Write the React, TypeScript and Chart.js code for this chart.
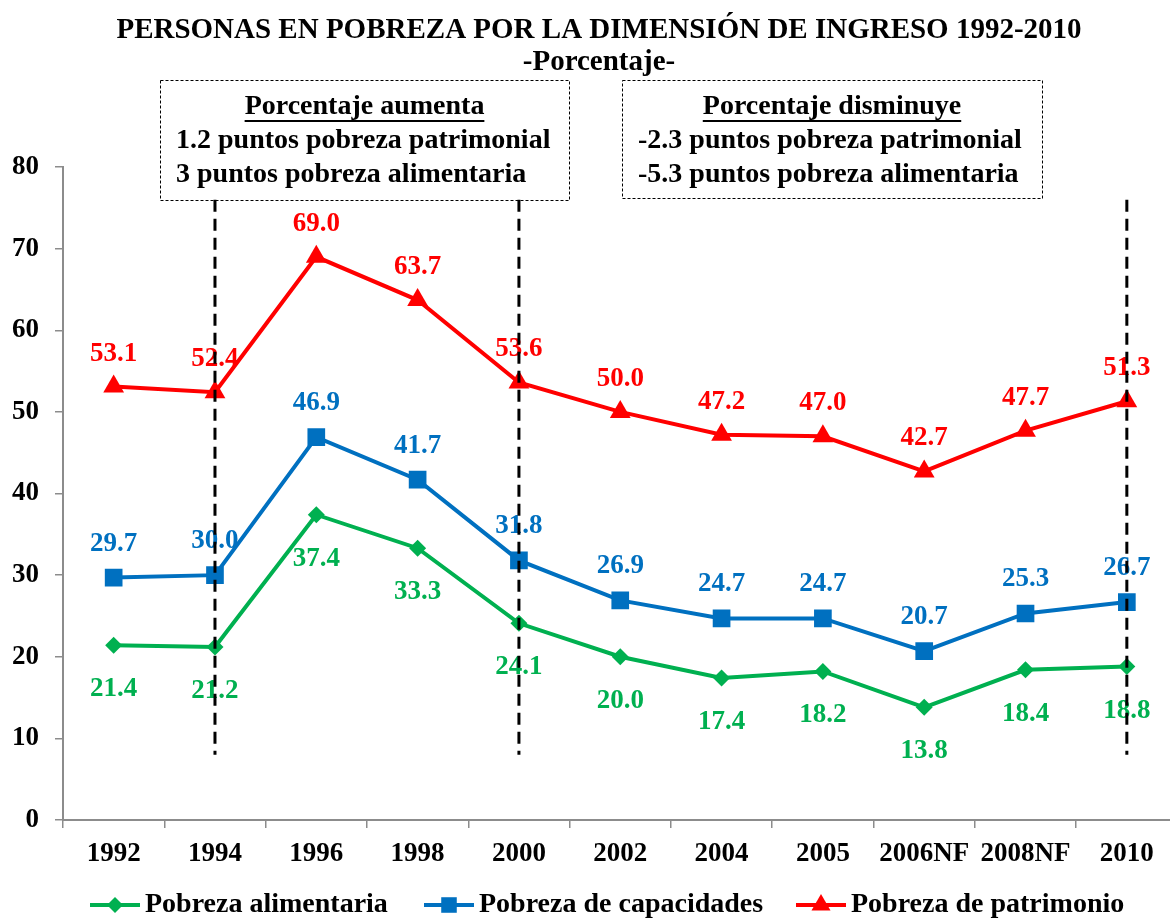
import React, { useEffect, useRef } from 'react';
import { Chart, registerables } from 'chart.js';
Chart.register(...registerables);

const categories = ['1992', '1994', '1996', '1998', '2000', '2002', '2004', '2005', '2006NF', '2008NF', '2010'];
const alimentaria = [21.4, 21.2, 37.4, 33.3, 24.1, 20.0, 17.4, 18.2, 13.8, 18.4, 18.8];
const capacidades = [29.7, 30.0, 46.9, 41.7, 31.8, 26.9, 24.7, 24.7, 20.7, 25.3, 26.7];
const patrimonio = [53.1, 52.4, 69.0, 63.7, 53.6, 50.0, 47.2, 47.0, 42.7, 47.7, 51.3];
const seriesNames = ['Pobreza alimentaria', 'Pobreza de capacidades', 'Pobreza de patrimonio'];
const seriesColors = ['#00B050', '#0070C0', '#FF0000'];
const titleLines = ['PERSONAS EN POBREZA POR LA DIMENSIÓN DE INGRESO 1992-2010', '-Porcentaje-'];
const boxAumentaHeading = 'Porcentaje aumenta';
const boxAumentaLines = ['1.2 puntos pobreza patrimonial', '3 puntos pobreza alimentaria'];
const boxDisminuyeHeading = 'Porcentaje disminuye';
const boxDisminuyeLines = ['-2.3 puntos pobreza patrimonial', '-5.3 puntos pobreza alimentaria'];
const dashedCategories = ['1994', '2000', '2010'];
const dashedRange = [76, 8];

const FONT = "'Liberation Serif', 'Times New Roman', serif";

function drawMarker(ctx: CanvasRenderingContext2D, style: string, x: number, y: number, r: number, color: string) {
  ctx.save();
  ctx.fillStyle = color;
  ctx.beginPath();
  if (style === 'rectRot') {
    ctx.moveTo(x - r, y); ctx.lineTo(x, y - r); ctx.lineTo(x + r, y); ctx.lineTo(x, y + r);
  } else if (style === 'rect') {
    const s = r * Math.SQRT1_2;
    ctx.rect(x - s, y - s, 2 * s, 2 * s);
  } else {
    const xo = Math.cos(Math.PI / 6) * r;
    ctx.moveTo(x - xo, y + r / 2); ctx.lineTo(x, y - r); ctx.lineTo(x + xo, y + r / 2);
  }
  ctx.closePath();
  ctx.fill();
  ctx.restore();
}

const decorPlugin = {
  id: 'decor',
  afterDatasetsDraw(chart: any) {
    const ctx: CanvasRenderingContext2D = chart.ctx;
    const xs = chart.scales.x;
    const ys = chart.scales.y;
    ctx.save();
    // Title
    ctx.fillStyle = '#000';
    ctx.textAlign = 'center';
    ctx.textBaseline = 'middle';
    ctx.font = `bold 29px ${FONT}`;
    ctx.fillText(titleLines[0], 599, 31);
    ctx.fillText(titleLines[1], 599, 63);

    // Boxes
    const drawBox = (x0: number, y0: number, x1: number, y1: number, heading: string, lines: string[], textX: number) => {
      ctx.save();
      ctx.strokeStyle = '#000';
      ctx.lineWidth = 1;
      ctx.setLineDash([3, 2]);
      ctx.strokeRect(x0 + 0.5, y0 + 0.5, x1 - x0, y1 - y0);
      ctx.restore();
      ctx.font = `bold 28px ${FONT}`;
      ctx.textAlign = 'center';
      ctx.textBaseline = 'middle';
      const cx = (x0 + x1) / 2;
      ctx.fillText(heading, cx, 107);
      const w = ctx.measureText(heading).width;
      ctx.fillRect(cx - w / 2, 120, w, 2);
      ctx.textAlign = 'left';
      lines.forEach((l, i) => ctx.fillText(l, textX, 141 + i * 34));
    };
    drawBox(160, 80, 569, 200, boxAumentaHeading, boxAumentaLines, 176);
    drawBox(622, 80, 1042, 198, boxDisminuyeHeading, boxDisminuyeLines, 638);

    // Data labels
    ctx.font = `bold 27px ${FONT}`;
    ctx.textAlign = 'center';
    ctx.textBaseline = 'middle';
    const offsets = [44, -34, -33];
    chart.data.datasets.forEach((ds: any, di: number) => {
      ctx.fillStyle = seriesColors[di];
      ds.data.forEach((v: number, i: number) => {
        const x = xs.getPixelForValue(i);
        const y = ys.getPixelForValue(v);
        ctx.fillText(v.toFixed(1), x, y + offsets[di]);
      });
    });

    // Dashed vertical lines
    ctx.strokeStyle = '#000';
    ctx.lineWidth = 3;
    ctx.setLineDash([12, 7]);
    dashedCategories.forEach((c) => {
      const x = xs.getPixelForValue(categories.indexOf(c));
      ctx.beginPath();
      ctx.moveTo(x, ys.getPixelForValue(dashedRange[0]));
      ctx.lineTo(x, ys.getPixelForValue(dashedRange[1]));
      ctx.stroke();
    });
    ctx.setLineDash([]);

    // Legend
    const legendX = [90, 424, 796];
    const ly = 905;
    const styles = ['rectRot', 'rect', 'triangle'];
    const radii = [8, 11, 11];
    ctx.font = `bold 28px ${FONT}`;
    ctx.textAlign = 'left';
    seriesNames.forEach((n, i) => {
      const x0 = legendX[i];
      ctx.strokeStyle = seriesColors[i];
      ctx.lineWidth = 4;
      ctx.beginPath();
      ctx.moveTo(x0, ly);
      ctx.lineTo(x0 + 50, ly);
      ctx.stroke();
      drawMarker(ctx, styles[i], x0 + 25, ly, radii[i], seriesColors[i]);
      ctx.fillStyle = '#000';
      ctx.fillText(n, x0 + 55, ly);
    });
    ctx.restore();
  },
};

export default function App() {
  const ref = useRef<HTMLCanvasElement>(null);
  useEffect(() => {
    if (!ref.current) return;
    const chart = new Chart(ref.current, {
      type: 'line',
      data: {
        labels: categories,
        datasets: [
          { label: seriesNames[0], data: alimentaria, borderColor: seriesColors[0], backgroundColor: seriesColors[0], borderWidth: 4, pointStyle: 'rectRot', pointRadius: 8.5, pointBorderWidth: 0, tension: 0 },
          { label: seriesNames[1], data: capacidades, borderColor: seriesColors[1], backgroundColor: seriesColors[1], borderWidth: 4, pointStyle: 'rect', pointRadius: 12.5, pointBorderWidth: 0, tension: 0 },
          { label: seriesNames[2], data: patrimonio, borderColor: seriesColors[2], backgroundColor: seriesColors[2], borderWidth: 4, pointStyle: 'triangle', pointRadius: 12, pointBorderWidth: 0, tension: 0 },
        ],
      },
      options: {
        responsive: false,
        animation: false,
        layout: { padding: { top: 167, right: 3, left: 0, bottom: 0 } },
        plugins: { legend: { display: false }, tooltip: { enabled: false }, title: { display: false } },
        scales: {
          x: {
            type: 'category',
            offset: true,
            grid: { drawOnChartArea: false, drawTicks: true, tickLength: 8, color: '#8c8c8c', offset: true, lineWidth: 1.5 },
            border: { color: '#8c8c8c', width: 2 },
            ticks: { color: '#000', font: { family: FONT, size: 27, weight: 'bold' }, padding: 10, maxRotation: 0, autoSkip: false },
            afterFit: (s: any) => { s.height = 99; },
          },
          y: {
            min: 0,
            max: 80,
            ticks: { stepSize: 10, color: '#000', font: { family: FONT, size: 27, weight: 'bold' }, padding: 16 },
            grid: { drawOnChartArea: false, drawTicks: true, tickLength: 8, color: '#8c8c8c', lineWidth: 1.5 },
            border: { color: '#8c8c8c', width: 2 },
            afterFit: (s: any) => { s.width = 63; },
          },
        },
      },
      plugins: [decorPlugin],
    } as any);
    return () => chart.destroy();
  }, []);
  return (
    <div style={{ position: 'fixed', left: 0, top: 0, width: 1170, height: 919, overflow: 'hidden', background: '#fff' }}>
      <canvas ref={ref} width={1190} height={919} style={{ width: 1190, height: 919, display: 'block' }} />
    </div>
  );
}
